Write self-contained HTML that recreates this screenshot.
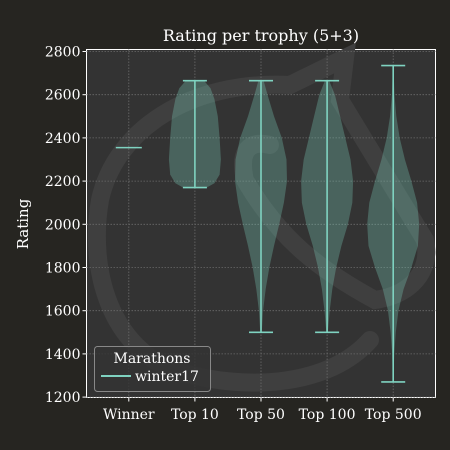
<!DOCTYPE html>
<html><head><meta charset="utf-8"><style>
html,body{margin:0;padding:0;background:#262521;}
svg{display:block;font-family:"DejaVu Serif","Liberation Serif",serif;}
</style></head><body>
<svg id="c" width="450" height="450" viewBox="0 0 450 450">
<rect x="0" y="0" width="450" height="450" fill="#262521"/>
<rect x="86.5" y="49.5" width="349" height="348" fill="#333333" stroke="#ffffff" stroke-width="1"/>
<g id="wm" fill="none" stroke="#3f3f3f" stroke-width="18" stroke-linecap="round">
<path d="M370 340 C330 385 250 392 180 372 C110 350 88 270 100 200 C115 130 190 80 290 85 L345 58 L340 100 L425 240 C432 272 410 295 375 300 C320 270 280 240 245 180 C238 150 250 140 270 145"/>
</g>
<g id="grid"></g><g id="violins"></g><g id="axes"></g>
<text x="261" y="41" fill="#ffffff" font-size="16" text-anchor="middle">Rating per trophy (5+3)</text>
<text x="28" y="224" fill="#ffffff" font-size="15" text-anchor="middle" transform="rotate(-90 28 224)">Rating</text>
<g>
<rect x="94.5" y="346.5" width="116" height="45" rx="3" fill="#333333" fill-opacity="0.8" stroke="#888" stroke-width="1"/>
<text x="152" y="363" fill="#ffffff" font-size="14" text-anchor="middle">Marathons</text>
<line x1="101" y1="376" x2="131" y2="376" stroke="#7fd3c1" stroke-width="2"/>
<text x="135" y="381" fill="#ffffff" font-size="14">winter17</text>
</g>
</svg>
<script>
const categories=["Winner","Top 10","Top 50","Top 100","Top 500"];
const mins=[2355,2170,1500,1500,1270];
const maxs=[2355,2665,2665,2665,2735];
const yTicks=[1200,1400,1600,1800,2000,2200,2400,2600,2800];
const levelsTop10=[2170,2190,2230,2300,2400,2500,2580,2630,2665];
const widthsTop10=[0.45,0.75,0.95,1.0,0.95,0.88,0.75,0.6,0.35];
const levelsTop50=[1500,1600,1700,1800,1900,2000,2100,2200,2300,2400,2500,2600,2665];
const widthsTop50=[0.03,0.08,0.18,0.32,0.5,0.7,0.88,1.0,0.98,0.8,0.5,0.25,0.1];
const levelsTop100=[1500,1600,1700,1800,1900,2000,2100,2200,2300,2400,2500,2600,2665];
const widthsTop100=[0.03,0.1,0.2,0.35,0.55,0.8,0.97,1.0,0.9,0.7,0.5,0.3,0.08];
const levelsTop500=[1270,1400,1500,1600,1700,1800,1900,2000,2100,2200,2300,2400,2500,2600,2735];
const widthsTop500=[0.01,0.04,0.1,0.2,0.4,0.7,0.95,1.0,0.92,0.7,0.45,0.25,0.12,0.05,0.01];
const profiles=[null,[levelsTop10,widthsTop10],[levelsTop50,widthsTop50],[levelsTop100,widthsTop100],[levelsTop500,widthsTop500]];
const NS="http://www.w3.org/2000/svg";
const X0=86.5,X1=435.5,Y0=49.5,Y1=397.5;
const xs=i=>X0+(i+0.64)/5.28*(X1-X0);
const ys=v=>51.5+(2800-v)/200*43.2;
const HW=26;
function mk(t,a,p){const e=document.createElementNS(NS,t);for(const k in a)e.setAttribute(k,a[k]);p.appendChild(e);return e;}
const grid=document.getElementById('grid'),vg=document.getElementById('violins'),ax=document.getElementById('axes');
yTicks.forEach(v=>{
 const l=mk('line',{x1:X0,x2:X1,y1:ys(v),y2:ys(v),stroke:'#6a6a6a','stroke-width':0.8,'stroke-dasharray':'1.5,1.5'},grid);
 
 
 const t=mk('line',{x1:X0-4,x2:X0,y1:ys(v),y2:ys(v),stroke:'#fff','stroke-width':1},ax);
 
 
 const tx=mk('text',{x:X0-6,y:ys(v)+5,fill:'#fff','font-size':14,'text-anchor':'end'},ax);
 tx.textContent=v;
 
 
});
categories.forEach((c,i)=>{
 const x=xs(i);
 const g=mk('line',{x1:x,x2:x,y1:Y0,y2:Y1,stroke:'#6a6a6a','stroke-width':0.8,'stroke-dasharray':'1.5,1.5'},grid);
 
 
 const t=mk('line',{x1:x,x2:x,y1:Y1,y2:Y1+4,stroke:'#fff','stroke-width':1},ax);
 
 
 const tx=mk('text',{x:x,y:419,fill:'#fff','font-size':14,'text-anchor':'middle'},ax);
 tx.textContent=c;
 
 
 const p=profiles[i];
 if(p){
  const [lv,wd]=p;
  let r=[],l=[];
  lv.forEach((v,k)=>{r.push((x+wd[k]*HW)+','+ys(v));l.unshift((x-wd[k]*HW)+','+ys(v));});
  const b=mk('polygon',{points:r.concat(l).join(' '),fill:'#7fd3c1','fill-opacity':0.3,'stroke-linejoin':'round'},vg);
  
  
 }
 const col='#7fd3c1';
 const capW=mins[i]===maxs[i]?13:12;
 if(mins[i]!==maxs[i]){
  const s=mk('line',{x1:x,x2:x,y1:ys(maxs[i]),y2:ys(mins[i]),stroke:col,'stroke-width':1.6},vg);
  
  
  const cb=mk('line',{x1:x-capW,x2:x+capW,y1:ys(mins[i]),y2:ys(mins[i]),stroke:col,'stroke-width':1.6},vg);
  
  
 }
 const ct=mk('line',{x1:x-capW,x2:x+capW,y1:ys(maxs[i]),y2:ys(maxs[i]),stroke:col,'stroke-width':1.6},vg);
 
 
});
</script>
</body></html>
